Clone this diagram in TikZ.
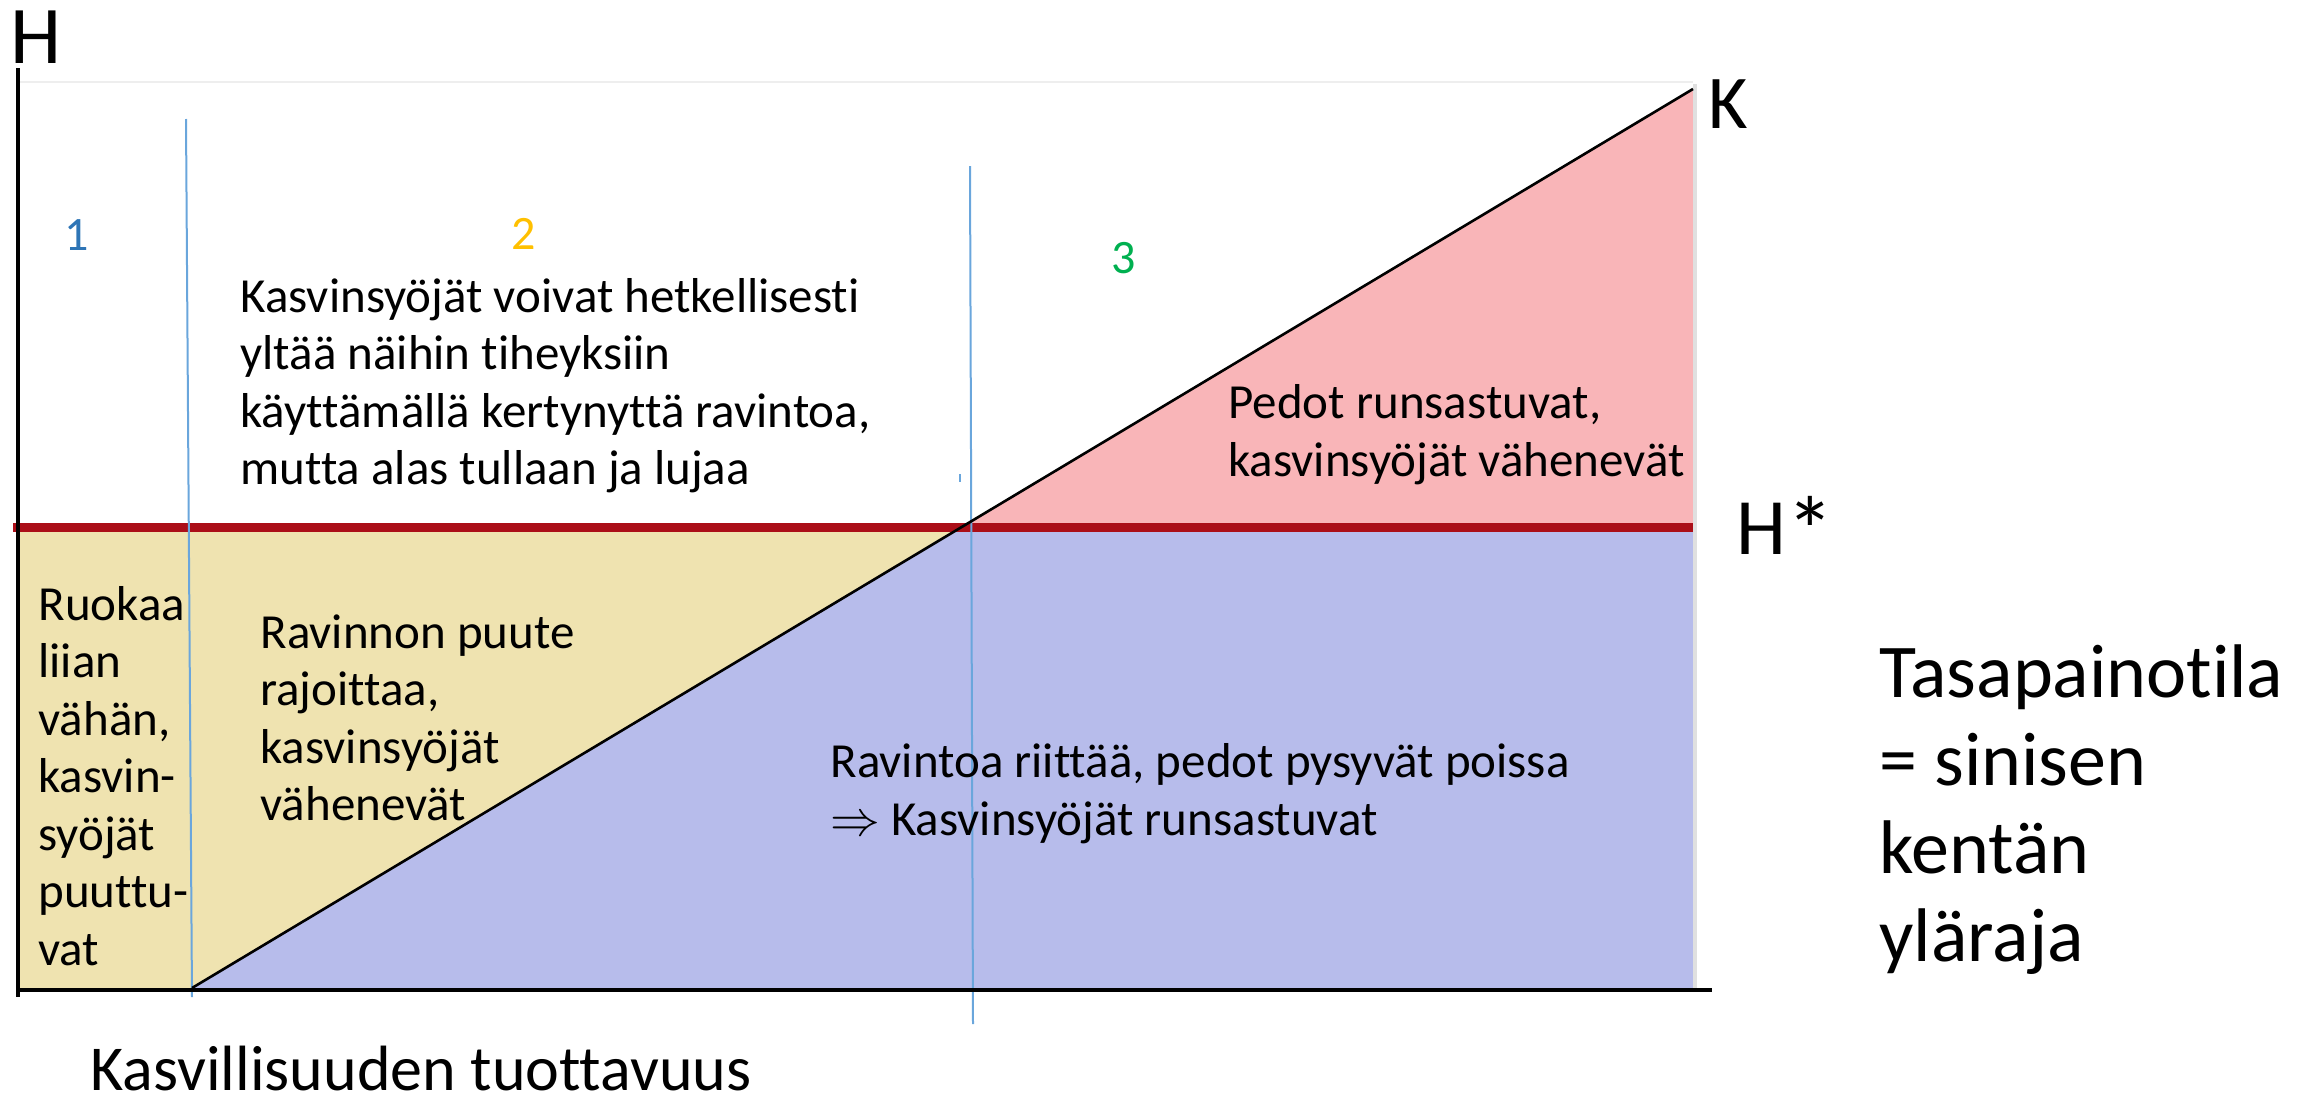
\documentclass[tikz,border=0pt]{standalone}
\usepackage{fontspec}
\setmainfont{Carlito}[Ligatures={NoCommon,NoContextual,NoRequired}]
\newcommand\linesat[2]{\vtop{\baselineskip=#1\relax\lineskiplimit=-100pt\relax\halign{##\hfil\cr#2\crcr}}}
\definecolor{yelfill}{HTML}{EFE3B0}
\definecolor{bluefill}{HTML}{B7BCEB}
\definecolor{pinkfill}{HTML}{F9B5B8}
\definecolor{hstar}{HTML}{AB0E18}
\definecolor{divline}{HTML}{6AA6DC}
\definecolor{lightgray1}{HTML}{EEEEEE}
\definecolor{lightgray2}{HTML}{E0E0E0}
\definecolor{numA}{HTML}{2E75B6}
\definecolor{numB}{HTML}{FFC000}
\definecolor{numC}{HTML}{00B050}
\begin{document}
\begin{tikzpicture}[x=0.5pt,y=-0.5pt,
  txt/.style={inner sep=0pt, anchor=base west, font=\fontsize{24.5}{28.75}\selectfont},
  num/.style={inner sep=0pt, anchor=base, font=\fontsize{24}{28}\selectfont},
  biglab/.style={inner sep=0pt, anchor=base west, font=\fontsize{40}{44}\selectfont},
  axisline/.style={line width=2pt, black},
  divider/.style={line width=1pt, divline},
  diag/.style={line width=1.3pt, black}]
\useasboundingbox (0,0) rectangle (2298,1098);
% key points
\coordinate (O) at (18,990);
\coordinate (Ytop) at (18,68);
\coordinate (Ybot) at (18,997);
\coordinate (Xend) at (1712,990);
\coordinate (Hl) at (13,527);
\coordinate (Hr) at (1693,527);
\coordinate (Dstart) at (192,988);
\coordinate (Dcross) at (962,527);
\coordinate (Dend) at (1693,89);
\coordinate (BR) at (1693,988);
\coordinate (YL) at (18,527);
\coordinate (YB) at (18,988);
% fills
\fill[yelfill] (YL) -- (Dcross) -- (Dstart) -- (YB) -- cycle;
\fill[bluefill] (Dstart) -- (Dcross) -- (Hr) -- (BR) -- cycle;
\fill[pinkfill] (Dcross) -- (Dend) -- (Hr) -- cycle;
% light frame
\draw[lightgray1, line width=1pt] (18,82) -- (1693,82);
\draw[lightgray2, line width=2pt] (1695,84) -- (1695,990);
% H* line
\draw[hstar, line width=4.5pt] (Hl) -- (Hr);
% dividers
\coordinate (V1t) at (186,119);
\coordinate (V1b) at (192,997);
\coordinate (V2t) at (970,166);
\coordinate (V2b) at (973,1024);
\draw[divider] (V1t) -- (V1b);
\draw[divider] (V2t) -- (V2b);
\coordinate (tickA) at (960,474);
\coordinate (tickB) at (960,482);
\draw[divider] (tickA) -- (tickB);
% diagonal
\draw[diag] (Dstart) -- (Dend);
% axes
\draw[axisline] (Ytop) -- (Ybot);
\draw[axisline] (16,990) -- (Xend);
% axis labels
\node[inner sep=0pt, anchor=base west, font=\fontsize{41}{44}\selectfont] (Hlab) at (10,63) {H};
\node[inner sep=0pt, anchor=base west, font=\fontsize{38}{44}\selectfont] (Klab) at (1708,128) {K};
\node[biglab] (Hstarlab) at (1736,554) {H\raisebox{-5pt}{\fontsize{48}{48}\selectfont*}};
\node[inner sep=0pt, anchor=base west, font=\fontsize{32}{38}\selectfont] (Xlab) at (90,1090) {Kasvillisuuden tuottavuus};
% numbers
\node[num, text=numA] (n1) at (77,250) {1};
\node[num, text=numB] (n2) at (524,249) {2};
\node[num, text=numC] (n3) at (1124,273) {3};
% region texts
\node[txt] (t2) at (240,312) {\linesat{28.75pt}{Kasvinsyöjät voivat hetkellisesti\cr yltää näihin tiheyksiin\cr käyttämällä kertynyttä ravintoa,\cr mutta alas tullaan ja lujaa}};
\node[txt] (t3) at (1228,418) {\linesat{29pt}{Pedot runsastuvat,\cr kasvinsyöjät vähenevät}};
\node[txt] (t1) at (38,620) {\linesat{28.75pt}{Ruokaa\cr liian\cr vähän,\cr kasvin-\cr syöjät\cr puuttu-\cr vat}};
\node[txt] (t4) at (260,648) {\linesat{28.75pt}{Ravinnon puute\cr rajoittaa,\cr kasvinsyöjät\cr vähenevät}};
\node[txt] (t5) at (830,777) {\linesat{29pt}{Ravintoa riittää, pedot pysyvät poissa\cr $\Rightarrow$ Kasvinsyöjät runsastuvat}};
\node[inner sep=0pt, anchor=base west, font=\fontsize{38}{44}\selectfont] (t6) at (1879,697) {\linesat{44pt}{Tasapainotila\cr = sinisen\cr kentän\cr yläraja}};
\end{tikzpicture}
\end{document}
